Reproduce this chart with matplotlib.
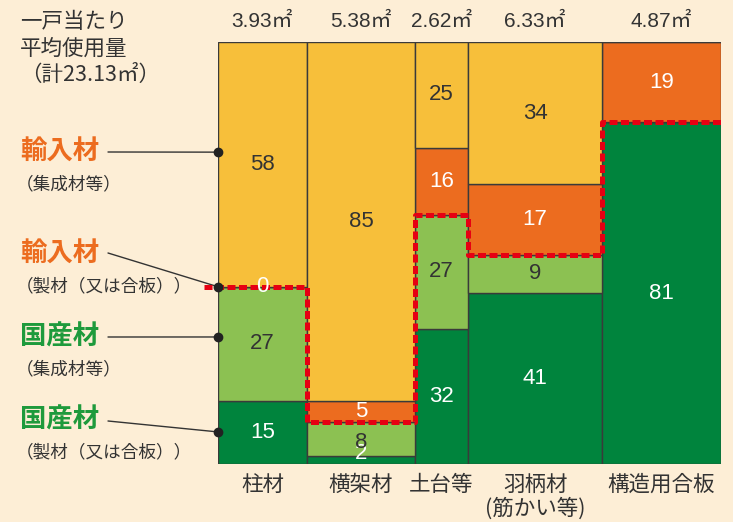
import numpy as np
import matplotlib
matplotlib.use("Agg")
import matplotlib.pyplot as plt

plt.rcParams["font.family"] = ["Noto Sans CJK JP", "DejaVu Sans"]
NUM_FONT = ["Liberation Sans", "Noto Sans CJK JP"]

# --- data -------------------------------------------------------------
categories = ["柱材", "横架材", "土台等", "羽柄材\n(筋かい等)", "構造用合板"]
volumes = [3.93, 5.38, 2.62, 6.33, 4.87]          # m3 per house
col_widths = [89, 108, 53, 134, 119]              # drawn widths
domestic_sawn = [15, 2, 32, 41, 81]               # 国産材（製材（又は合板））
domestic_glulam = [27, 8, 27, 9, 0]               # 国産材（集成材等）
import_sawn = [0, 5, 16, 17, 19]                  # 輸入材（製材（又は合板））
import_glulam = [58, 85, 25, 34, 0]               # 輸入材（集成材等）
header = ["一戸当たり", "平均使用量", "（計23.13㎡）"]

BG = "#fdeed6"
DARK_GREEN = "#00843d"
LIGHT_GREEN = "#8cc152"
ORANGE = "#ec6c1f"
YELLOW = "#f7bf3a"
RED = "#e60012"
TXT = "#333333"

layers = [
    (domestic_sawn, DARK_GREEN, "white"),
    (domestic_glulam, LIGHT_GREEN, TXT),
    (import_sawn, ORANGE, "white"),
    (import_glulam, YELLOW, TXT),
]

W, H = 733, 522
fig = plt.figure(figsize=(W / 100, H / 100), dpi=100, facecolor=BG)


def fx(x):
    return x / W


def fy(y):
    return 1 - y / H


ax = fig.add_axes([fx(218), fy(464), fx(721) - fx(218), fy(42) - fy(464)])
ax.set_facecolor(BG)
ax.set_axis_off()

widths = np.array(col_widths, dtype=float)
lefts = np.concatenate([[0], np.cumsum(widths)[:-1]])
centers = lefts + widths / 2
totals = np.sum([l[0] for l in layers], axis=0).astype(float)

bottom = np.zeros(len(categories))
for vals, col, tcol in layers:
    h = np.array(vals) / totals * 100
    ax.bar(lefts, h, width=widths, bottom=bottom, align="edge",
           color=col, edgecolor="#3a3a3a", linewidth=1.0)
    for i, v in enumerate(vals):
        if v > 0:
            ymid = max(bottom[i] + h[i] / 2, 2.6)
            if v == 8:
                ymid -= 1.0      # the 8 sits a little low, above the thin 2
            ax.text(centers[i], ymid, str(v), ha="center", va="center",
                    color=tcol, fontsize=16, family=NUM_FONT)
    bottom += h

ax.set_xlim(0, widths.sum())
ax.set_ylim(0, 100)

# zero share of imported sawn timber for 柱材 sits on the boundary
dom = (np.array(domestic_sawn) + np.array(domestic_glulam)) / totals * 100
ax.text(centers[0], dom[0], str(import_sawn[0]), ha="center", va="center",
        color="white", fontsize=16, family=NUM_FONT, zorder=6)

# red dashed boundary between domestic and imported timber
xs, ys = [-14], [dom[0]]
for i in range(len(categories)):
    xs += [lefts[i], lefts[i] + widths[i]]
    ys += [dom[i], dom[i]]
ax.plot(xs, ys, color=RED, lw=3.6, dashes=(1.6, 0.7), clip_on=False,
        solid_capstyle="butt", dash_capstyle="butt", zorder=5)

# volume per category above, names below
for i in range(len(categories)):
    ax.text(centers[i], 104.8, f"{volumes[i]:.2f}㎡", ha="center",
            va="center", fontsize=15, color=TXT, family=NUM_FONT)
    ax.text(centers[i], -2.4, categories[i], ha="center", va="top",
            fontsize=15.5, color=TXT, linespacing=1.05)

# left header
for k, s in enumerate(header):
    fig.text(fx(20), fy(22 + 26.5 * k), s, ha="left", va="center",
             fontsize=15.5, color=TXT)

# left legend with leader lines to the first column
legend = [
    ("輸入材", "（集成材等）", ORANGE, 152, 152, 73.9),
    ("輸入材", "（製材（又は合板））", ORANGE, 254, 253, dom[0]),
    ("国産材", "（集成材等）", "#1e9a3c", 337, 337, 30.1),
    ("国産材", "（製材（又は合板））", "#1e9a3c", 420, 421, 7.6),
]
for head, sub, col, ty, ly, yv in legend:
    fig.text(fx(20), fy(ty), head, ha="left", va="center", fontsize=19,
             color=col, fontweight="bold")
    fig.text(fx(16), fy(ty + 32), sub, ha="left", va="center",
             fontsize=12.7, color=TXT)
    ax.annotate("", xy=(0, yv), xycoords="data",
                xytext=(fx(108), fy(ly)), textcoords="figure fraction",
                arrowprops=dict(arrowstyle="-", color=TXT, lw=1.0,
                                shrinkA=0, shrinkB=0),
                annotation_clip=False)
    ax.plot([0], [yv], "o", ms=6, color="#222222", clip_on=False, zorder=7)

fig.savefig("out.png", dpi=100, facecolor=BG)
